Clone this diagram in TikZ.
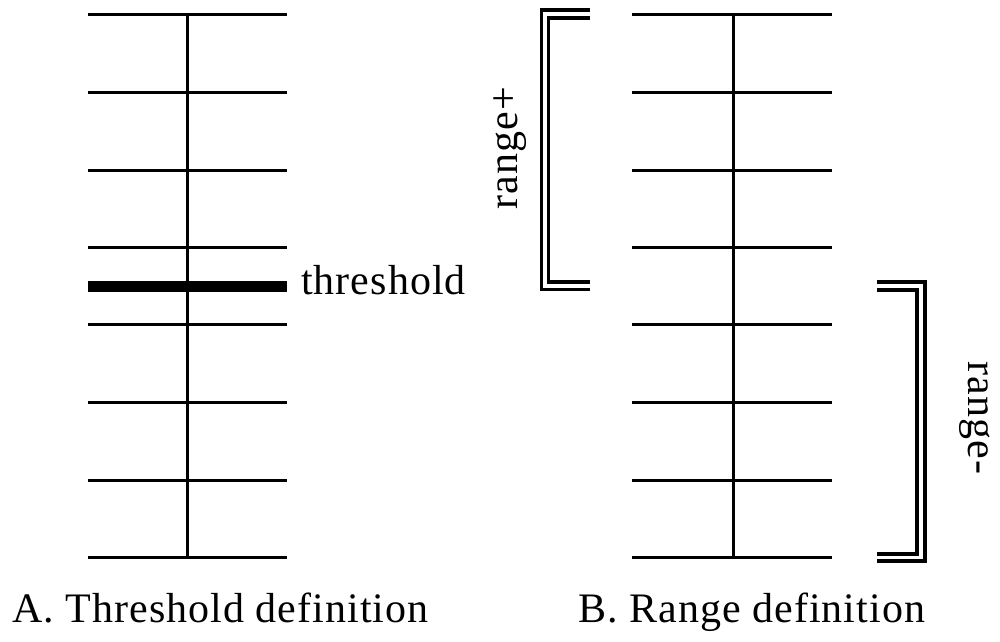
\documentclass[tikz,border=0pt]{standalone}
\usepackage{fontspec}
\setmainfont[LetterSpace=2.5]{Liberation Serif}
\begin{document}
\begin{tikzpicture}[x=1pt,y=-1pt,
  rung/.style={line width=3pt},
  thickrung/.style={line width=11pt},
  stem/.style={line width=3pt},
  brk/.style={line width=3.4pt,line cap=butt,line join=miter},
  lbl/.style={inner sep=0pt,font=\fontsize{42}{50}\selectfont}]
\useasboundingbox (0,0) rectangle (1000,641);
% Left ladder
\coordinate (Atop) at (187.5,14);
\coordinate (Abot) at (187.5,557);
\foreach \y in {14,92,170,247,324,402,480,557}
  \draw[rung] (88,\y) -- (287,\y);
\draw[thickrung] (88,286) -- (287,286);
\draw[stem] (Atop) -- (Abot);
\node[lbl,anchor=base west] (thr) at (301,294) {threshold};
\node[lbl,anchor=base west] (capA) at (12,622) {A. Threshold definition};
% Right ladder
\coordinate (Btop) at (733,14);
\coordinate (Bbot) at (733,557);
\foreach \y in {14,92,170,247,324,402,480,557}
  \draw[rung] (632,\y) -- (832,\y);
\draw[stem] (Btop) -- (Bbot);
\node[lbl,anchor=base west] (capB) at (578,622) {B. Range definition};
% range+ bracket
\draw[brk] (590,10) -- (541.5,10) -- (541.5,289.5) -- (590,289.5);
\draw[brk] (590,18) -- (548.7,18) -- (548.7,282) -- (590,282);
\node[lbl,rotate=90,anchor=base] (rp) at (517,148) {range+};
% range- bracket
\draw[brk] (877,282) -- (925,282) -- (925,561) -- (877,561);
\draw[brk] (877,290) -- (917,290) -- (917,554) -- (877,554);
\node[lbl,rotate=-90,anchor=base] (rm) at (968,418) {range-};
\end{tikzpicture}
\end{document}
